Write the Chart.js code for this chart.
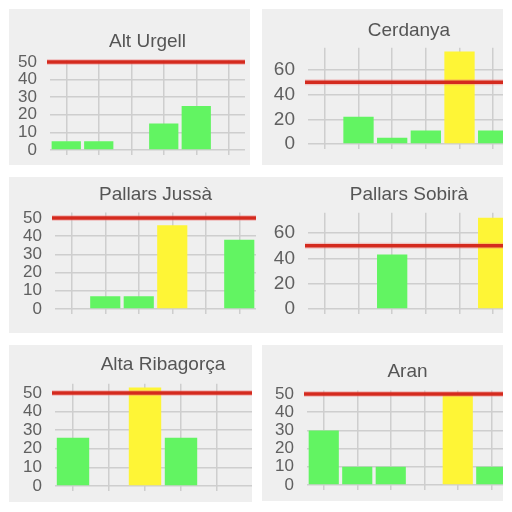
<!DOCTYPE html>
<html><head><meta charset="utf-8">
<script src="https://cdn.jsdelivr.net/npm/chart.js@4"></script>
<style>
html,body{margin:0;padding:0;background:#fff;width:512px;height:512px;overflow:hidden}
.panel{position:absolute;background:#efefef;overflow:hidden}
.panel canvas{position:absolute;left:0;top:0}
</style></head><body>
<script>
// ---- data ----
const regionNames = ['Alt Urgell', 'Cerdanya', 'Pallars Jussà', 'Pallars Sobirà', 'Alta Ribagorça', 'Aran'];
const categories = ['1', '2', '3', '4', '5', '6'];
const valuesAltUrgell = [5, 5, 0, 15, 25, 0];
const valuesCerdanya = [0, 22, 5, 11, 75, 11];
const valuesPallarsJussa = [0, 7, 7, 46, 0, 38];
const valuesPallarsSobira = [0, 0, 43, 0, 0, 72];
const valuesAltaRibagorca = [26, 0, 53, 26, 0, 0];
const valuesAran = [30, 10, 10, 0, 50, 10];
const highlightIndex = [-1, 4, 3, 5, 2, 4];
const thresholdValue = 50;
const yTickStep = [10, 20, 10, 20, 10, 10];
const yAxisMax = [51, 78, 53, 76, 55, 52];

const allValues = [valuesAltUrgell, valuesCerdanya, valuesPallarsJussa, valuesPallarsSobira, valuesAltaRibagorca, valuesAran];

// ---- layout (page geometry) ----
const X_AXIS_H = 16;
const panelLayout = [
  {box:[9,9,250,165],     w:236, plotBottom:141, yW:41, tpTop:21.1, tpBot:7.3, tickSize:17, tickPad:13},
  {box:[262,9,503,165],   w:248, plotBottom:135, yW:46, tpTop:10.6, tpBot:5.4, tickSize:19, tickPad:13},
  {box:[9,177,262,333],   w:247, plotBottom:132, yW:46, tpTop:6.6,  tpBot:6.1, tickSize:17, tickPad:13},
  {box:[262,177,503,333], w:248, plotBottom:132, yW:46, tpTop:6.6,  tpBot:6.3, tickSize:19, tickPad:13},
  {box:[9,345,252,502],   w:262, plotBottom:141, yW:46, tpTop:8.6,  tpBot:7.3, tickSize:17, tickPad:13},
  {box:[262,345,503,501], w:246, plotBottom:140, yW:45, tpTop:15.6, tpBot:7.0, tickSize:17, tickPad:13}
];

const GREEN = '#62f462';
const YELLOW = '#fef536';
const GRID = '#cecece';

const thresholdPlugin = {
  id: 'threshold',
  afterDatasetsDraw(chart, args, opts) {
    const y = chart.scales.y.getPixelForValue(opts.value);
    const {left, right} = chart.chartArea;
    const ctx = chart.ctx;
    ctx.save();
    ctx.lineCap = 'butt';
    ctx.strokeStyle = 'rgba(240,120,120,0.35)';
    ctx.lineWidth = 6;
    ctx.beginPath(); ctx.moveTo(left - 3, y); ctx.lineTo(right, y); ctx.stroke();
    ctx.strokeStyle = '#d42a1e';
    ctx.lineWidth = 3.5;
    ctx.beginPath(); ctx.moveTo(left - 3, y); ctx.lineTo(right, y); ctx.stroke();
    ctx.restore();
  }
};

regionNames.forEach((name, i) => {
  const L = panelLayout[i];
  const H = L.plotBottom + X_AXIS_H;
  const div = document.createElement('div');
  div.className = 'panel';
  div.style.left = L.box[0] + 'px';
  div.style.top = L.box[1] + 'px';
  div.style.width = (L.box[2] - L.box[0]) + 'px';
  div.style.height = (L.box[3] - L.box[1]) + 'px';
  const cv = document.createElement('canvas');
  cv.width = L.w; cv.height = H;
  cv.style.width = L.w + 'px'; cv.style.height = H + 'px';
  div.appendChild(cv);
  document.body.appendChild(div);

  const colors = allValues[i].map((v, k) => k === highlightIndex[i] ? YELLOW : GREEN);

  new Chart(cv, {
    type: 'bar',
    data: {
      labels: categories,
      datasets: [{
        data: allValues[i],
        backgroundColor: colors,
        borderWidth: 0,
        barPercentage: 0.9,
        categoryPercentage: 1
      }]
    },
    options: {
      responsive: false,
      animation: false,
      devicePixelRatio: 1,
      layout: {padding: 0},
      plugins: {
        legend: {display: false},
        tooltip: {enabled: false},
        title: {
          display: true, text: name, fullSize: false, color: '#555',
          font: {family: 'Liberation Sans', size: 19, weight: 'normal', lineHeight: 1.2},
          padding: {top: L.tpTop, bottom: L.tpBot}
        },
        threshold: {value: thresholdValue}
      },
      scales: {
        x: {
          grid: {offset: false, color: GRID, lineWidth: 1.5, drawTicks: true, tickLength: 5},
          border: {display: false},
          ticks: {display: false},
          afterFit(s) { s.height = X_AXIS_H; }
        },
        y: {
          min: 0, max: yAxisMax[i],
          grid: {color: GRID, lineWidth: 1.5, drawTicks: false},
          border: {display: false},
          ticks: {
            stepSize: yTickStep[i], autoSkip: false, includeBounds: false, padding: L.tickPad,
            color: '#606060', font: {family: 'Liberation Sans', size: L.tickSize}
          },
          afterFit(s) { s.width = L.yW; s.paddingTop = 0; s.paddingBottom = 0; }
        }
      }
    },
    plugins: [thresholdPlugin]
  });
});
</script>
</body></html>
